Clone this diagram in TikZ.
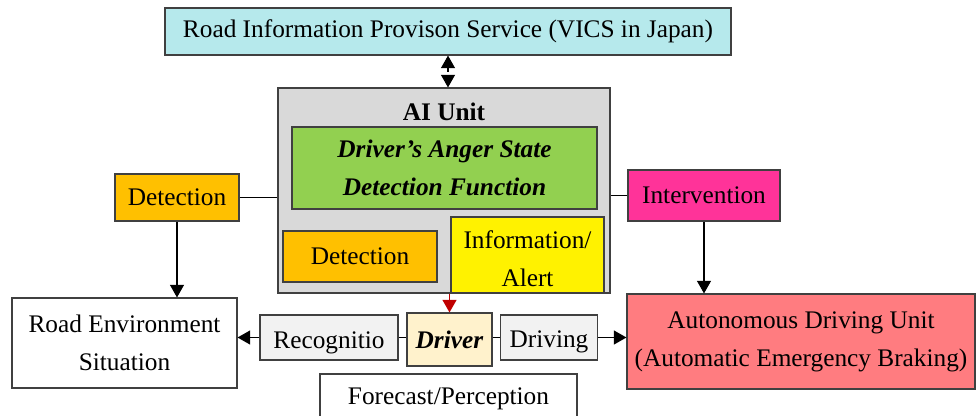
\documentclass[tikz,border=0pt]{standalone}
\usepackage{fontspec}
\setmainfont{Liberation Serif}
\usetikzlibrary{arrows.meta, positioning}

\definecolor{infoblue}{RGB}{182,233,236}
\definecolor{unitgray}{RGB}{217,217,217}
\definecolor{angergreen}{RGB}{146,208,80}
\definecolor{detorange}{RGB}{255,192,0}
\definecolor{intpink}{RGB}{255,51,153}
\definecolor{aebred}{RGB}{255,124,128}
\definecolor{drivercream}{RGB}{255,242,204}
\definecolor{actgray}{RGB}{242,242,242}
\definecolor{edgegray}{RGB}{64,64,64}
\definecolor{alertred}{RGB}{192,0,0}

\begin{document}
\begin{tikzpicture}[
    x=0.025cm, y=-0.025cm,
    >={Triangle[length=9pt,width=10pt]},
    line width=0.8pt,
    every node/.style={font=\fontsize{18}{27}\selectfont, align=center, inner sep=0pt},
    box/.style={rectangle, draw=edgegray, line width=0.8pt}
]

\clip (0,0) rectangle (977,415);
\useasboundingbox (0,0) rectangle (977,415);

% Nodes
\node[box, fill=infoblue, minimum width=566*0.025cm, minimum height=47*0.025cm] (info) at (448,31.5) {Road Information Provison Service (VICS in Japan)};
\node[box, fill=unitgray, minimum width=332*0.025cm, minimum height=205*0.025cm] (aiunit) at (444,190.5) {};
\node (aititle) at (444,112) {\textbf{AI Unit}};
\node[box, fill=angergreen, minimum width=305*0.025cm, minimum height=82*0.025cm] (anger) at (444.5,168) {\textbf{\textit{Driver’s Anger State}}\\\textbf{\textit{Detection Function}}};
\node[box, fill=detorange, minimum width=154*0.025cm, minimum height=51*0.025cm] (detin) at (360,256.5) {Detection};
\node[box, fill=yellow, minimum width=153*0.025cm, minimum height=76*0.025cm] (alert) at (527.5,255) {};
\node (alerttext) at (527.5,259) {Information/\\Alert};

\node[box, fill=detorange, minimum width=124*0.025cm, minimum height=47*0.025cm] (detout) at (177,197.5) {Detection};
\node[box, fill=intpink, minimum width=152*0.025cm, minimum height=51*0.025cm] (interv) at (704,195.5) {Intervention};

\node[box, fill=white, minimum width=225*0.025cm, minimum height=90*0.025cm] (roadenv) at (124.5,343) {Road Environment\\Situation};
\node[box, fill=actgray, minimum width=138*0.025cm, minimum height=45*0.025cm] (recog) at (329,337.5) {};
\node (recogtext) at (329,343) {Recognitio};
\node[box, fill=drivercream, minimum width=85*0.025cm, minimum height=53*0.025cm] (driver) at (449.5,339.5) {\textbf{\textit{Driver}}};
\node[box, fill=actgray, minimum width=97*0.025cm, minimum height=45*0.025cm] (driving) at (549,337.5) {};
\node (drivingtext) at (549,342) {Driving};
\node[box, fill=aebred, minimum width=348*0.025cm, minimum height=95*0.025cm] (aeb) at (801,341.5) {Autonomous Driving Unit\\(Automatic Emergency Braking)};
\node[box, fill=white, minimum width=257*0.025cm, minimum height=51*0.025cm] (forecast) at (448.5,399.5) {};
\node (forecasttext) at (448.5,399) {Forecast/Perception};

% Edges
\draw[<->, dashed] (info.south) -- (info.south |- aiunit.north);
\draw (detout.east) -- (detout.east -| aiunit.west);
\draw (interv.west) -- (interv.west -| aiunit.east);
\draw[->] (detout.south) -- (detout.south |- roadenv.north);
\draw[->] (interv.south) -- (interv.south |- aeb.north);
\draw[->, alertred] (aiunit.south -| driver.north) -- (driver.north);
\draw[->] (recog.west) -- (recog.west -| roadenv.east);
\draw (recog.east) -- (recog.east -| driver.west);
\draw (driver.east |- driving.west) -- (driving.west);
\draw[->] (driving.east) -- (driving.east -| aeb.west);

\end{tikzpicture}
\end{document}
